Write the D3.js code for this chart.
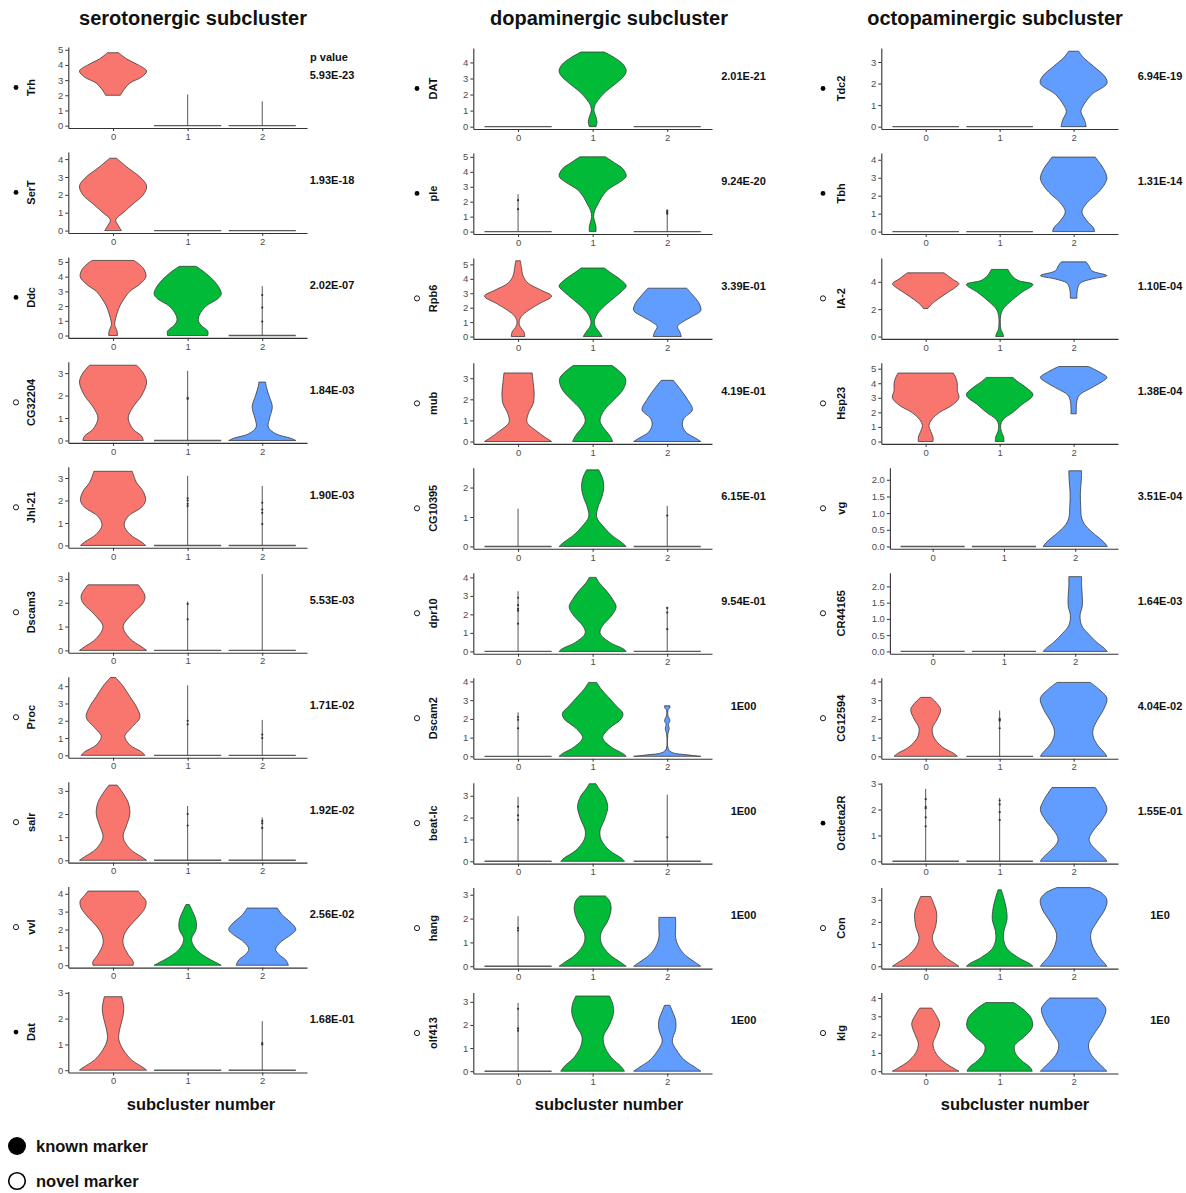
<!DOCTYPE html>
<html><head><meta charset="utf-8">
<script src="https://cdn.jsdelivr.net/npm/d3@7"></script>
<style>
body{margin:0;background:#fff}
text{font-family:"Liberation Sans",Arial,Helvetica,sans-serif}
</style>
</head><body>
<svg id="chart" width="1186" height="1193"></svg>
<script>
// Subcluster labels and their fill colours
const groups = ["0", "1", "2"];
const groupFills = ["#F8766D", "#00BA38", "#619CFF"];

// Violin encoding: array of [expression, relative half-width] (bottom to top),
// {stem, pts} for a group with only a few expressing cells, 0 for all-zero groups.

// ---- serotonergic subcluster ----
const seroGenes = ["Trh", "SerT", "Ddc", "CG32204", "Jhl-21", "Dscam3", "Proc", "salr", "vvl", "Dat"];
const seroKnown = [1, 1, 1, 0, 0, 0, 0, 0, 0, 1];
const seroPvals = ["5.93E-23", "1.93E-18", "2.02E-07", "1.84E-03", "1.90E-03", "5.53E-03", "1.71E-02", "1.92E-02", "2.56E-02", "1.68E-01"];
const seroYTop = [5.18, 4.4, 5.34, 3.5, 3.5, 3.3, 4.55, 3.4, 4.4, 3.05];
const seroTicks = [[0,1,2,3,4,5],[0,1,2,3,4],[0,1,2,3,4,5],[0,1,2,3],[0,1,2,3],[0,1,2,3],[0,1,2,3,4],[0,1,2,3],[0,1,2,3,4],[0,1,2,3]];
const seroViolins = [
  [[[2.0,0.22],[2.3,0.3],[2.8,0.5],[3.2,0.85],[3.6,1.0],[4.0,0.75],[4.4,0.4],[4.8,0.17]], {stem:2.05, pts:[]}, {stem:1.6, pts:[]}],
  [[[0,0.25],[0.3,0.15],[0.6,0.08],[1.0,0.3],[1.5,0.6],[2.0,0.9],[2.5,1.0],[3.0,0.8],[3.5,0.45],[4.05,0.1]], 0, 0],
  [[[0,0.13],[0.3,0.12],[0.7,0.05],[1.0,0.06],[1.5,0.12],[2.0,0.2],[2.5,0.33],[3.0,0.5],[3.5,0.8],[4.0,0.98],[4.5,0.92],[4.9,0.75],[5.1,0.62]],
   [[0,0.6],[0.3,0.6],[0.7,0.4],[1.0,0.32],[1.4,0.35],[2.0,0.55],[2.5,0.9],[2.8,1.0],[3.2,0.95],[3.8,0.75],[4.3,0.5],[4.7,0.25]],
   {stem:3.35, pts:[2.75,1.9,0.95]}],
  [[[0,0.9],[0.2,0.85],[0.5,0.6],[1.0,0.45],[1.5,0.6],[2.0,0.85],[2.6,1.0],[3.0,0.9],[3.35,0.7]],
   {stem:3.1, pts:[1.9,1.85]},
   [[0,1.0],[0.1,0.85],[0.3,0.4],[0.6,0.18],[1.0,0.22],[1.5,0.3],[2.0,0.2],[2.4,0.12],[2.6,0.1]]],
  [[[0,0.97],[0.15,0.85],[0.5,0.5],[0.9,0.33],[1.3,0.45],[1.7,0.85],[2.0,0.97],[2.4,0.9],[2.8,0.7],[3.3,0.57]],
   {stem:3.1, pts:[2.1,2.0,1.85,1.75]}, {stem:2.65, pts:[1.9,1.6,1.45,0.95]}],
  [[[0,1.0],[0.15,0.85],[0.5,0.5],[1.0,0.3],[1.5,0.55],[2.0,0.9],[2.3,0.95],[2.75,0.75]],
   {stem:2.05, pts:[1.95,1.3]}, {stem:3.2, pts:[]}],
  [[[0,0.95],[0.2,0.85],[0.6,0.5],[1.1,0.35],[1.6,0.55],[2.2,0.8],[2.8,0.7],[3.4,0.5],[4.0,0.3],[4.5,0.08]],
   {stem:4.05, pts:[2.0,1.8]}, {stem:2.05, pts:[1.2,1.0]}],
  [[[0,1.0],[0.15,0.85],[0.5,0.5],[1.0,0.3],[1.5,0.4],[2.0,0.5],[2.5,0.45],[3.0,0.25],[3.25,0.12]],
   {stem:2.35, pts:[2.0,1.5]}, {stem:1.85, pts:[1.7,1.6,1.4]}],
  [[[0,0.6],[0.2,0.6],[0.6,0.45],[1.2,0.3],[1.7,0.33],[2.2,0.5],[2.7,0.75],[3.2,0.95],[3.6,0.98],[3.9,0.85],[4.15,0.75]],
   [[0,1.0],[0.1,0.9],[0.4,0.6],[0.8,0.3],[1.2,0.15],[1.5,0.12],[2.0,0.25],[2.5,0.25],[3.0,0.15],[3.4,0.05]],
   [[0,0.78],[0.3,0.7],[0.6,0.5],[0.9,0.4],[1.3,0.55],[1.7,0.85],[2.0,1.0],[2.4,0.85],[2.8,0.6],[3.2,0.45]]],
  [[[0,1.0],[0.1,0.9],[0.4,0.55],[0.8,0.3],[1.2,0.17],[1.6,0.2],[2.0,0.28],[2.4,0.32],[2.85,0.26]],
   0, {stem:1.9, pts:[1.05,1.0]}]
];

// ---- dopaminergic subcluster ----
const dopaGenes = ["DAT", "ple", "Rpb6", "mub", "CG10395", "dpr10", "Dscam2", "beat-Ic", "hang", "olf413"];
const dopaKnown = [1, 1, 0, 0, 0, 0, 0, 0, 0, 0];
const dopaPvals = ["2.01E-21", "9.24E-20", "3.39E-01", "4.19E-01", "6.15E-01", "9.54E-01", "1E00", "1E00", "1E00", "1E00"];
const dopaYTop = [4.9, 5.26, 5.45, 3.73, 2.67, 4.25, 4.2, 3.6, 3.3, 3.4];
const dopaTicks = [[0,1,2,3,4],[0,1,2,3,4,5],[0,1,2,3,4,5],[0,1,2,3],[0,1,2],[0,1,2,3,4],[0,1,2,3,4],[0,1,2,3],[0,1,2,3],[0,1,2,3]];
const dopaViolins = [
  [0, [[0,0.1],[0.3,0.13],[0.6,0.1],[1.0,0.04],[1.3,0.06],[1.7,0.18],[2.2,0.4],[2.7,0.7],[3.2,0.95],[3.5,1.0],[3.9,0.9],[4.3,0.65],[4.65,0.35]], 0],
  [{stem:2.5, pts:[2.1,1.5]},
   [[0,0.1],[0.3,0.1],[0.6,0.07],[1.0,0.03],[1.4,0.06],[1.8,0.15],[2.3,0.27],[2.8,0.45],[3.3,0.8],[3.7,1.0],[4.2,0.9],[4.6,0.65],[5.0,0.38]],
   {stem:1.45, pts:[1.4,1.3,1.2]}],
  [[[0,0.2],[0.3,0.18],[0.7,0.06],[1.0,0.03],[1.4,0.1],[1.8,0.3],[2.3,0.65],[2.8,1.0],[3.2,0.7],[3.7,0.3],[4.2,0.15],[4.8,0.1],[5.25,0.07]],
   [[0,0.28],[0.3,0.2],[0.7,0.08],[1.0,0.05],[1.5,0.12],[2.0,0.3],[2.6,0.6],[3.1,0.85],[3.5,1.0],[4.0,0.8],[4.4,0.55],[4.75,0.35]],
   [[0,0.42],[0.3,0.38],[0.7,0.3],[1.0,0.45],[1.4,0.75],[1.8,1.0],[2.3,0.95],[2.9,0.75],[3.35,0.58]]],
  [[[0,1.0],[0.15,0.85],[0.5,0.55],[0.9,0.27],[1.3,0.3],[1.8,0.45],[2.3,0.48],[2.8,0.45],[3.25,0.42]],
   [[0,0.6],[0.3,0.5],[0.7,0.3],[1.0,0.22],[1.5,0.35],[2.0,0.65],[2.5,0.92],[3.0,0.98],[3.6,0.58]],
   [[0,1.0],[0.15,0.85],[0.45,0.55],[0.8,0.45],[1.1,0.5],[1.5,0.75],[2.0,0.6],[2.5,0.38],[2.9,0.18]]],
  [{stem:1.28, pts:[]},
   [[0,1.0],[0.15,0.85],[0.4,0.55],[0.7,0.3],[1.0,0.12],[1.3,0.15],[1.7,0.28],[2.0,0.33],[2.3,0.3],[2.6,0.18]],
   {stem:1.38, pts:[1.05]}],
  [{stem:3.25, pts:[2.9,2.5,2.3,2.2,1.5]},
   [[0,1.0],[0.15,0.9],[0.5,0.5],[1.0,0.22],[1.4,0.3],[1.9,0.55],[2.4,0.7],[2.8,0.6],[3.3,0.4],[3.7,0.2],[4.0,0.1]],
   {stem:2.4, pts:[2.35,2.1,1.2]}],
  [{stem:2.35, pts:[2.1,1.95,1.5]},
   [[0,1.0],[0.15,0.9],[0.5,0.55],[1.0,0.3],[1.5,0.5],[2.0,0.85],[2.3,0.9],[2.7,0.7],[3.2,0.45],[3.6,0.25],[3.95,0.12]],
   [[0,1.0],[0.08,0.6],[0.2,0.15],[0.4,0.03],[1.2,0.02],[1.5,0.06],[1.7,0.03],[1.9,0.08],[2.2,0.02],[2.5,0.03],[2.6,0.08],[2.7,0.08]]],
  [{stem:2.95, pts:[2.5,2.1,1.9]},
   [[0,0.95],[0.15,0.85],[0.5,0.5],[1.0,0.25],[1.4,0.22],[1.9,0.35],[2.5,0.45],[3.0,0.35],[3.3,0.2],[3.55,0.1]],
   {stem:3.05, pts:[1.1]}],
  [{stem:2.1, pts:[1.6,1.5]},
   [[0,1.0],[0.15,0.85],[0.5,0.5],[1.0,0.25],[1.4,0.25],[1.9,0.45],[2.4,0.55],[2.75,0.5],[2.95,0.38]],
   [[0,1.0],[0.15,0.85],[0.45,0.55],[0.8,0.35],[1.2,0.25],[1.6,0.25],[2.05,0.25]]],
  [{stem:2.95, pts:[2.7,1.85,1.75]},
   [[0,0.95],[0.2,0.85],[0.6,0.55],[1.1,0.35],[1.5,0.32],[2.0,0.5],[2.5,0.62],[2.9,0.6],[3.25,0.5]],
   [[0,1.0],[0.15,0.85],[0.5,0.5],[0.9,0.28],[1.3,0.15],[1.8,0.25],[2.2,0.25],[2.6,0.15],[2.85,0.08]]]
];

// ---- octopaminergic subcluster ----
const octoGenes = ["Tdc2", "Tbh", "IA-2", "Hsp23", "vg", "CR44165", "CG12594", "Octbeta2R", "Con", "klg"];
const octoKnown = [1, 1, 0, 0, 0, 0, 0, 1, 0, 0];
const octoPvals = ["6.94E-19", "1.31E-14", "1.10E-04", "1.38E-04", "3.51E-04", "1.64E-03", "4.04E-02", "1.55E-01", "1E0", "1E0"];
const octoYTop = [3.65, 4.38, 5.74, 5.4, 2.36, 2.42, 4.2, 3.04, 3.55, 4.3];
const octoTicks = [[0,1,2,3],[0,1,2,3,4],[0,2,4],[0,1,2,3,4,5],[0,0.5,1,1.5,2],[0,0.5,1,1.5,2],[0,1,2,3,4],[0,1,2,3],[0,1,2,3],[0,1,2,3,4]];
const octoViolins = [
  [0, 0, [[0,0.38],[0.3,0.33],[0.7,0.22],[1.0,0.3],[1.5,0.55],[2.0,1.0],[2.3,0.95],[2.8,0.6],[3.2,0.3],[3.5,0.15]]],
  [0, 0, [[0,0.63],[0.2,0.6],[0.6,0.4],[1.1,0.25],[1.6,0.4],[2.2,0.75],[2.7,0.95],[3.0,1.0],[3.5,0.9],[3.9,0.75],[4.15,0.65]]],
  [[[2.05,0.07],[2.3,0.15],[2.7,0.35],[3.2,0.65],[3.6,0.9],[3.85,1.0],[4.2,0.8],[4.65,0.55]],
   [[0,0.12],[0.2,0.1],[0.5,0.04],[1.0,0.02],[1.5,0.03],[2.0,0.1],[2.5,0.3],[3.2,0.65],[3.8,1.0],[4.1,0.55],[4.5,0.35],[4.9,0.25]],
   [[2.8,0.1],[3.1,0.1],[3.5,0.12],[3.9,0.2],[4.2,0.55],[4.45,1.0],[4.8,0.55],[5.2,0.45],[5.45,0.37]]],
  [[[0,0.22],[0.3,0.22],[0.7,0.15],[1.1,0.1],[1.5,0.18],[2.0,0.42],[2.5,0.8],[3.0,1.0],[3.5,0.95],[4.0,0.95],[4.4,0.9],[4.7,0.83]],
   [[0,0.13],[0.3,0.12],[0.7,0.05],[1.1,0.03],[1.5,0.1],[2.0,0.4],[2.5,0.65],[3.2,1.0],[3.7,0.8],[4.1,0.55],[4.4,0.4]],
   [[1.9,0.08],[2.3,0.08],[2.8,0.1],[3.2,0.18],[3.7,0.55],[4.1,0.85],[4.4,1.0],[4.8,0.75],[5.15,0.45]]],
  [0, 0, [[0,1.0],[0.1,0.92],[0.25,0.75],[0.45,0.5],[0.65,0.3],[0.85,0.2],[1.2,0.17],[1.6,0.16],[2.0,0.19],[2.27,0.2]]],
  [0, 0, [[0,1.0],[0.1,0.9],[0.3,0.65],[0.55,0.4],[0.8,0.2],[1.1,0.15],[1.4,0.22],[1.7,0.22],[2.0,0.2],[2.3,0.2]]],
  [[[0,0.95],[0.15,0.85],[0.5,0.5],[1.0,0.25],[1.5,0.2],[2.0,0.35],[2.5,0.45],[2.9,0.3],[3.15,0.15]],
   {stem:2.45, pts:[2.0,1.95,1.9,1.5]},
   [[0,1.0],[0.2,0.92],[0.6,0.72],[1.0,0.6],[1.4,0.58],[1.9,0.7],[2.5,0.9],[3.1,1.0],[3.6,0.75],[3.95,0.5]]],
  [{stem:2.8, pts:[2.4,2.1,2.05,1.7,1.35]},
   {stem:2.45, pts:[2.35,2.2,1.9,1.6]},
   [[0,1.0],[0.1,0.95],[0.35,0.75],[0.7,0.5],[0.9,0.47],[1.2,0.6],[1.6,0.85],[2.0,1.0],[2.4,0.88],[2.85,0.65]]],
  [[[0,1.0],[0.15,0.85],[0.45,0.55],[0.9,0.28],[1.3,0.2],[1.8,0.3],[2.4,0.33],[2.9,0.22],[3.15,0.15]],
   [[0,1.0],[0.12,0.9],[0.4,0.55],[0.8,0.22],[1.2,0.12],[1.6,0.13],[2.1,0.22],[2.6,0.2],[3.1,0.12],[3.45,0.05]],
   [[0,1.0],[0.15,0.92],[0.5,0.72],[1.0,0.55],[1.5,0.52],[2.0,0.7],[2.6,0.95],[3.0,1.0],[3.3,0.85],[3.55,0.5]]],
  [[[0,1.0],[0.15,0.85],[0.5,0.55],[1.0,0.3],[1.5,0.22],[2.0,0.32],[2.6,0.42],[3.1,0.3],[3.45,0.18]],
   [[0,0.98],[0.2,0.92],[0.6,0.65],[1.0,0.47],[1.4,0.45],[1.9,0.75],[2.4,0.98],[2.9,0.95],[3.4,0.7],[3.75,0.42]],
   [[0,1.0],[0.15,0.92],[0.5,0.72],[1.0,0.5],[1.5,0.45],[2.0,0.6],[2.7,0.85],[3.4,0.97],[3.75,0.85],[4.0,0.72]]]
];

const columnTitles = ["serotonergic subcluster", "dopaminergic subcluster", "octopaminergic subcluster"];
const xAxisTitle = "subcluster number";
const legendLabels = ["known marker", "novel marker"];

// ---- layout ----
const columns = [
  {title: columnTitles[0], genes: seroGenes, known: seroKnown, pvals: seroPvals, yTop: seroYTop, ticks: seroTicks, violins: seroViolins,
   axisBase: 63, right: 307, bottom0: 128, labelX: 31, markX: 16, pX: 332, titleX: 193, xTitleX: 201},
  {title: columnTitles[1], genes: dopaGenes, known: dopaKnown, pvals: dopaPvals, yTop: dopaYTop, ticks: dopaTicks, violins: dopaViolins,
   axisBase: 468, right: 712, bottom0: 129, labelX: 433, markX: 417, pX: 743.5, titleX: 609, xTitleX: 609},
  {title: columnTitles[2], genes: octoGenes, known: octoKnown, pvals: octoPvals, yTop: octoYTop, ticks: octoTicks, violins: octoViolins,
   axisBase: 876, right: 1118, bottom0: 129, labelX: 841, markX: 823, pX: 1160, titleX: 995, xTitleX: 1015}
];
const rowStep = 104.95, plotH = 81, axisCol = "#333", tickTextCol = "#4d4d4d";

const svg = d3.select("#chart");

columns.forEach(col => {
  svg.append("text").attr("x", col.titleX).attr("y", 25)
    .attr("text-anchor", "middle").attr("font-size", 20).attr("font-weight", "bold").attr("fill", "#111")
    .text(col.title);

  col.genes.forEach((gene, r) => {
    const bottom = col.bottom0 + r * rowStep;
    const top = bottom - plotH;
    const ticks = col.ticks[r];
    const decimal = ticks.some(t => t % 1 !== 0);
    const fmt = decimal ? d3.format(".1f") : d3.format("d");
    const labW = d3.max(ticks, t => fmt(t).length) * 5.3 - (decimal ? 2 : 0);
    const x0 = col.axisBase + labW;

    const x = d3.scalePoint().domain(groups).range([x0, col.right]).padding(0.6);
    const y = d3.scaleLinear().domain([-0.03 * col.yTop[r], col.yTop[r]]).range([bottom, top]);
    const half = 0.45 * x.step();

    const g = svg.append("g");

    // violins
    col.violins[r].forEach((v, i) => {
      const cx = x(groups[i]);
      if (Array.isArray(v)) {
        const area = d3.area()
          .y(d => y(d[0]))
          .x0(d => cx - d[1] * half)
          .x1(d => cx + d[1] * half)
          .curve(d3.curveCatmullRom.alpha(0.5));
        g.append("path").attr("d", area(v))
          .attr("fill", groupFills[i]).attr("stroke", "#333").attr("stroke-width", 0.75);
      } else {
        g.append("line").attr("x1", cx - half).attr("x2", cx + half)
          .attr("y1", y(0)).attr("y2", y(0))
          .attr("stroke", "#5a5a5a").attr("stroke-width", 1.4);
        if (v && v.stem) {
          g.append("line").attr("x1", cx).attr("x2", cx)
            .attr("y1", y(0)).attr("y2", y(v.stem))
            .attr("stroke", "#444").attr("stroke-width", 0.9);
          g.selectAll(null).data(v.pts).join("circle")
            .attr("cx", cx).attr("cy", d => y(d)).attr("r", 1.1).attr("fill", "#333");
        }
      }
    });

    // axes
    const yAxis = g.append("g").attr("transform", `translate(${x0},0)`)
      .call(d3.axisLeft(y).tickValues(ticks).tickFormat(fmt).tickSize(3).tickSizeOuter(0).tickPadding(2));
    const xAxis = g.append("g").attr("transform", `translate(0,${bottom})`)
      .call(d3.axisBottom(x).tickSize(3).tickSizeOuter(0).tickPadding(2));
    [yAxis, xAxis].forEach(a => {
      a.select(".domain").attr("stroke", axisCol).attr("stroke-width", 1.1);
      a.selectAll(".tick line").attr("stroke", axisCol);
      a.selectAll(".tick text").attr("fill", tickTextCol).attr("font-size", 9.5)
        .attr("font-family", "'Liberation Sans',Arial,sans-serif");
    });

    // gene label and marker-type symbol
    const cy = (top + bottom) / 2;
    svg.append("text")
      .attr("transform", `translate(${col.labelX},${cy}) rotate(-90)`)
      .attr("text-anchor", "middle").attr("dy", "0.35em")
      .attr("font-size", 11).attr("font-weight", "bold").attr("fill", "#111")
      .text(gene);
    svg.append("circle").attr("cx", col.markX).attr("cy", cy)
      .attr("r", col.known[r] ? 2.4 : 2.6)
      .attr("fill", col.known[r] ? "#000" : "#fff")
      .attr("stroke", "#000").attr("stroke-width", col.known[r] ? 0 : 0.9);

    // p value
    svg.append("text").attr("x", col.pX).attr("y", bottom - 53).attr("dy", "0.35em")
      .attr("text-anchor", "middle").attr("font-size", 11).attr("font-weight", "bold").attr("fill", "#111")
      .text(col.pvals[r]);
    if (r === 0 && col === columns[0]) {
      svg.append("text").attr("x", 310).attr("y", bottom - 71).attr("dy", "0.35em")
        .attr("font-size", 11).attr("font-weight", "bold").attr("fill", "#111")
        .text("p value");
    }
  });

  svg.append("text").attr("x", col.xTitleX).attr("y", 1110)
    .attr("text-anchor", "middle").attr("font-size", 16.5).attr("font-weight", "bold").attr("fill", "#111")
    .text(xAxisTitle);
});

// legend
const legend = svg.append("g");
legendLabels.forEach((lab, i) => {
  const ly = 1146 + i * 35;
  legend.append("circle").attr("cx", 17).attr("cy", ly).attr("r", i === 0 ? 9 : 8.3)
    .attr("fill", i === 0 ? "#000" : "#fff").attr("stroke", "#000").attr("stroke-width", i === 0 ? 0 : 1.6);
  legend.append("text").attr("x", 36).attr("y", ly).attr("dy", "0.35em")
    .attr("font-size", 16.5).attr("font-weight", "bold").attr("fill", "#111").text(lab);
});
</script>
</body></html>
